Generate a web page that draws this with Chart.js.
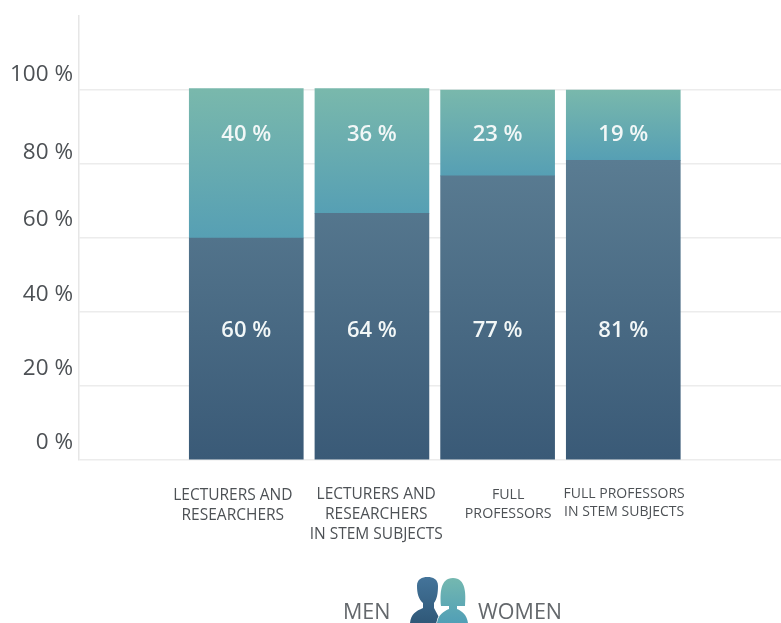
<!DOCTYPE html>
<html>
<head>
<meta charset="utf-8">
<style>html,body{margin:0;padding:0;background:#fff}canvas{display:block}</style>
<script src="https://cdn.jsdelivr.net/npm/chart.js@4"></script>
</head>
<body>
<canvas id="c" width="781" height="623"></canvas>
<script>
const categories = [
  ['LECTURERS AND', 'RESEARCHERS'],
  ['LECTURERS AND', 'RESEARCHERS', 'IN STEM SUBJECTS'],
  ['FULL', 'PROFESSORS'],
  ['FULL PROFESSORS', 'IN STEM SUBJECTS']
];
const barSlots = [1, 2, 3, 4];
const labelSlots = [0.893, 2.034, 3.084, 4.007];
const labelSizes = [15.5, 15.5, 14.2, 14];
const labelLeading = [20.5, 20, 19, 18];
const menValues = [60, 66.7, 76.8, 81];
const womenValues = [40.4, 33.7, 23.2, 19];
const menLabels = ['60 %', '64 %', '77 %', '81 %'];
const womenLabels = ['40 %', '36 %', '23 %', '19 %'];
const yTicks = [0, 20, 40, 60, 80, 100];
const yTickLift = {0: 35, 20: 35, 40: 35, 60: 37, 80: 23, 100: 31};
const seriesNames = ['MEN', 'WOMEN'];

const ink = '#4d5155';

function segGradient(c, top, bottom, from, to, flat) {
  if (!c.chartArea || !isFinite(top) || !isFinite(bottom)) return flat;
  const g = c.ctx.createLinearGradient(0, top, 0, bottom);
  g.addColorStop(0, from);
  g.addColorStop(1, to);
  return g;
}

const menFill = ctx => {
  const c = ctx.chart, s = c.scales.y;
  if (!s) return '#4a6c86';
  return segGradient(c, s.getPixelForValue(81), s.getPixelForValue(0), '#5a7c92', '#3a5a77', '#4a6c86');
};
const womenFill = ctx => {
  const c = ctx.chart, s = c.scales.y;
  if (!s) return '#62acb2';
  const v = ctx.raw ? ctx.raw.y : 30;
  return segGradient(c, s.getPixelForValue(100), s.getPixelForValue(100 - v), '#79b8ac', '#569fb4', '#62acb2');
};

const annotate = {
  id: 'annotate',
  afterDatasetsDraw(chart) {
    const { ctx, scales: { y } } = chart;
    ctx.save();
    ctx.fillStyle = '#f2f7f7';
    ctx.font = '600 22px "Open Sans"';
    ctx.textAlign = 'center';
    ctx.textBaseline = 'middle';
    chart.getDatasetMeta(0).data.forEach((bar, i) => {
      ctx.fillText(menLabels[i], bar.x, y.getPixelForValue(34.9));
    });
    chart.getDatasetMeta(1).data.forEach((bar, i) => {
      ctx.fillText(womenLabels[i], bar.x, y.getPixelForValue(87.9));
    });

    // legend
    ctx.fillStyle = '#64686c';
    ctx.font = '21.5px "Open Sans"';
    ctx.textAlign = 'left';
    ctx.fillText(seriesNames[0], 343, 613);
    ctx.fillText(seriesNames[1], 478, 613);

    // man icon
    let g = ctx.createLinearGradient(0, 577, 0, 623);
    g.addColorStop(0, '#44749a');
    g.addColorStop(1, '#2f5878');
    ctx.fillStyle = g;
    ctx.beginPath();
    ctx.moveTo(410, 623);
    ctx.bezierCurveTo(411, 614, 416, 611, 423, 608);
    ctx.lineTo(423, 603);
    ctx.bezierCurveTo(418.5, 599, 417, 593, 417, 586);
    ctx.bezierCurveTo(417, 579, 422, 577, 427.5, 577);
    ctx.bezierCurveTo(433, 577, 438, 579, 438, 586);
    ctx.bezierCurveTo(438, 593, 437, 599, 434, 603);
    ctx.lineTo(434, 608);
    ctx.lineTo(442, 623);
    ctx.closePath();
    ctx.fill();

    // woman icon
    g = ctx.createLinearGradient(0, 578, 0, 623);
    g.addColorStop(0, '#74b8b0');
    g.addColorStop(1, '#519fb6');
    ctx.fillStyle = g;
    ctx.strokeStyle = '#ffffff';
    ctx.lineWidth = 1.5;
    ctx.beginPath();
    ctx.moveTo(437, 623);
    ctx.bezierCurveTo(438, 615, 444, 611, 449, 609);
    ctx.lineTo(449, 606);
    ctx.lineTo(441, 606);
    ctx.bezierCurveTo(440, 594, 440, 578, 453, 578);
    ctx.bezierCurveTo(466, 578, 466, 594, 465, 606);
    ctx.lineTo(457, 606);
    ctx.lineTo(457, 609);
    ctx.bezierCurveTo(462, 611, 467, 615, 468, 623);
    ctx.closePath();
    ctx.stroke();
    ctx.fill();
    ctx.restore();
  }
};

new Chart(document.getElementById('c'), {
  type: 'bar',
  data: {
    datasets: [
      { label: seriesNames[0], data: barSlots.map((x, i) => ({ x, y: menValues[i] })), backgroundColor: menFill, barThickness: 114, stack: 's' },
      { label: seriesNames[1], data: barSlots.map((x, i) => ({ x, y: womenValues[i] })), backgroundColor: womenFill, barThickness: 114, stack: 's' }
    ]
  },
  options: {
    responsive: false,
    animation: false,
    layout: { padding: { top: 16, left: 0, right: 0, bottom: 0 } },
    plugins: { legend: { display: false }, tooltip: { enabled: false } },
    scales: {
      x: {
        type: 'linear',
        offset: false,
        stacked: true,
        min: -0.331,
        max: 5.255,
        afterBuildTicks: s => { s.ticks = labelSlots.map(value => ({ value })); },
        afterFit: s => { s.height = 163; s.paddingLeft = 0; s.paddingRight = 0; },
        grid: { display: false, drawTicks: false },
        border: { display: false },
        ticks: {
          autoSkip: false,
          maxRotation: 0,
          padding: 25,
          color: ink,
          font: c => ({ family: '"Open Sans"', size: labelSizes[c.index] || 15, lineHeight: (labelLeading[c.index] || 20) + 'px' }),
          callback: (v) => categories[labelSlots.indexOf(v)]
        }
      },
      y: {
        stacked: true,
        min: 0,
        max: 120,
        afterBuildTicks: s => { s.ticks = [...yTicks, 120].map(value => ({ value })); },
        afterFit: s => { s.width = 79; s.paddingTop = 0; s.paddingBottom = 0; },
        grid: {
          drawTicks: false,
          lineWidth: 1.5,
          color: c => (c.tick && c.tick.value === 120) ? 'rgba(0,0,0,0)' : '#ececec'
        },
        border: { display: true, color: '#e6e6e6', width: 1.5 },
        ticks: {
          autoSkip: false,
          padding: 6,
          color: ink,
          font: c => ({ family: '"Open Sans"', size: 22.5, lineHeight: (c.tick ? (yTickLift[c.tick.value] || 35) : 35) + 'px' }),
          callback: v => v === 120 ? '' : [v + ' %', ' ']
        }
      }
    }
  },
  plugins: [annotate]
});
</script>
</body>
</html>
